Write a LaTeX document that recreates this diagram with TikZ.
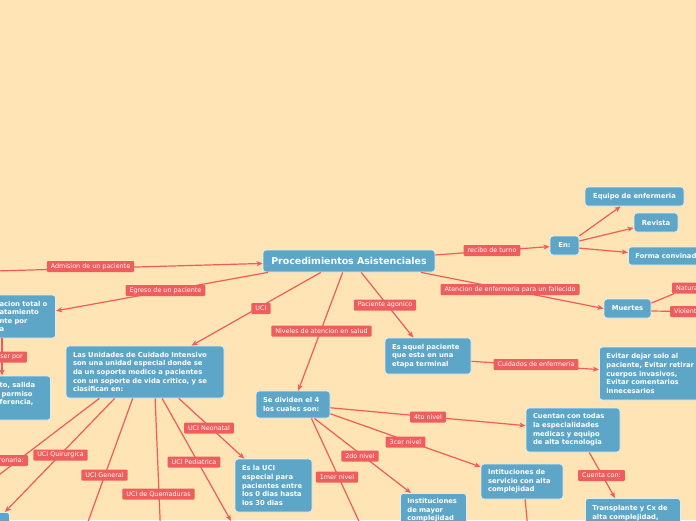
\documentclass[tikz,border=0pt]{standalone}
\usepackage{fontspec}
\setmainfont{DejaVu Sans}
\usetikzlibrary{arrows.meta,calc}
\definecolor{bgc}{HTML}{FFE4B6}
\definecolor{nodeblue}{HTML}{5EA6C8}
\definecolor{labred}{HTML}{EF5D5D}
\definecolor{edgered}{HTML}{F05C5C}
\tikzset{
 box/.style={fill=nodeblue, draw=white!80!nodeblue, line width=0.8pt, rounded corners=3pt, text=white,
   font=\fontsize{6.8}{8.6}\selectfont\bfseries, align=left, inner xsep=7pt, inner ysep=4pt},
 lbl/.style={fill=labred, text=white, font=\fontsize{6.4}{7.5}\selectfont, inner xsep=4pt, inner ysep=1.5pt,
   minimum height=11pt, rounded corners=1pt},
 conn/.style={draw=edgered, line width=1.2pt},
 arr/.style={conn, -{Stealth[length=6pt,width=5pt,inset=1.5pt]}},
}
\begin{document}
\begin{tikzpicture}[x=1pt,y=-1pt]
\clip (0,0) rectangle (696,520);
\fill[bgc] (0,0) rectangle (696,520);

% boxes
\node[box, minimum width=172pt, minimum height=22pt, inner xsep=8pt, font=\fontsize{9.4}{11}\selectfont\bfseries] (main) at (349,261) {Procedimientos Asistenciales};
\node[box, minimum width=29pt, minimum height=19pt, inner xsep=5pt] (en) at (564.5,245.5) {En:};
\node[box, minimum width=99pt, minimum height=19pt] (equipo) at (634.5,196.5) {Equipo de enfermeria};
\node[box, minimum width=44pt, minimum height=19pt] (revista) at (656,222.5) {Revista};
\node[box, minimum height=18pt, anchor=west] (forma) at (628,256) {Forma convinada};
\node[box, minimum width=47pt, minimum height=19pt] (muertes) at (627.5,308.5) {Muertes};
\node[box, text width=72pt, minimum height=36pt] (aquel) at (428,356) {Es aquel paciente\\que esta en una\\etapa terminal};
\node[box, text width=108pt, minimum height=53pt, anchor=west] (evitar) at (599,373.5) {Evitar dejar solo al\\paciente, Evitar retirar\\cuerpos invasivos,\\Evitar comentarios\\innecesarios};
\node[box, text width=80pt, minimum height=44pt] (cuentan) at (573,430) {Cuentan con todas\\la especialidades\\medicas y equipo\\de alta tecnologia};
\node[box, text width=68pt, minimum height=35pt] (intit) at (522,481.5) {Intituciones de\\servicio con alta\\complejidad};
\node[box, text width=81pt, minimum height=30pt, anchor=north west] (transpl) at (585,498) {Transplante y Cx de\\alta complejidad,};
\node[box, text width=52pt, minimum height=34pt, anchor=north west] (mayor) at (400,493) {Instituciones\\de mayor\\complejidad};
\node[box, text width=60pt, minimum height=27pt] (dividen) at (293,404.5) {Se dividen el 4\\los cuales son:};
\node[box, text width=63pt, minimum height=53pt] (neonat) at (273.5,485.5) {Es la UCI\\especial para\\pacientes entre\\los 0 dias hasta\\los 30 dias};
\node[box, text width=144pt, minimum height=52pt] (ucidef) at (145,372) {Las Unidades de Cuidado Intensivo\\son una unidad especial donde se\\da un soporte medico a pacientes\\con un soporte de vida critico, y se\\clasifican en:};
\node[box, text width=50pt, inner xsep=6pt, minimum height=43pt, anchor=east] (left1) at (56,316.5) {acion total o\\atamiento\\nte por\\a};
\node[box, text width=45pt, inner xsep=6pt, minimum height=44pt, anchor=east] (left2) at (51,398) {to, salida\\\hspace*{2pt}permiso\\ferencia,\\\mbox{}};
\node[box, minimum width=40pt, minimum height=20pt, anchor=north east] (bl) at (10,512) {};

% labels that are connector ends
\node[lbl, anchor=west] (lNat) at (672,288) {Natural};
\node[lbl, anchor=west] (lVio) at (670,311.5) {Violenta};

% free ends
\coordinate (offAdm) at (-40,272);
\coordinate (offCor) at (-30,497);
\coordinate (offGen) at (85,530);
\coordinate (offQue) at (160.5,530);
\coordinate (offPed) at (231,521);
\coordinate (off1) at (363,530);
\coordinate (offInt) at (528,530);

% connectors
\draw[arr] (offAdm) -- (main);
\draw[arr] (main.188) -- (left1);
\draw[arr] (main.202) -- (ucidef);
\draw[arr] (main.241) -- (dividen);
\draw[arr] (main.317) -- (aquel);
\draw[arr] (main.4) -- (en);
\draw[arr] (main.351) -- (muertes.west);
\draw[arr] (en.33) -- (equipo);
\draw[arr] (en.17) -- (revista);
\draw[arr] (en.350) -- (forma);
\draw[conn] (muertes.13) -- (lNat);
\draw[conn] (muertes.354) -- (lVio);
\draw[arr] (aquel.353) -- (evitar);
\draw[arr] (dividen.355) -- (cuentan);
\draw[arr] (dividen.346) -- (intit);
\draw[arr] (dividen.327) -- (mayor);
\draw[conn] (dividen.323) -- (off1);
\draw[arr] (cuentan.306) -- ($(transpl.north west)+(30,0)$);
\draw[conn] (intit.280) -- (offInt);
\draw[conn] (ucidef.210) -- (offCor);
\draw[arr] (ucidef.221) -- ($(bl.north east)+(-5,0)$);
\draw[conn] (ucidef.245) -- (offGen);
\draw[conn] (ucidef.291) -- (offQue);
\draw[arr] (ucidef.303) -- (offPed);
\draw[arr] (ucidef.322) -- (neonat);
\draw[arr] ($(left1.south east)+(-54,0)$) -- ($(left2.north east)+(-49,0)$);

% labels on connectors
\node[lbl] (lAdm) at (90.5,266.5) {Admision de un paciente};
\node[lbl] (lEgr) at (165.5,290.5) {Egreso de un paciente};
\node[lbl] (lUci) at (261,308.5) {UCI};
\node[lbl] (lNiv) at (321.5,331) {Niveles de atencion en salud};
\node[lbl] (lAgo) at (385,305) {Paciente agonico};
\node[lbl] (lRec) at (492,250.5) {recibo de turno};
\node[lbl] (lAte) at (510,289.5) {Atencion de enfermeria para un fallecido};
\node[lbl] (lCui) at (536,364.5) {Cuidados de enfermeria};
\node[lbl] (l4) at (428,417) {4to nivel};
\node[lbl] (l3) at (405.5,442) {3cer nivel};
\node[lbl] (l2) at (360,456) {2do nivel};
\node[lbl] (l1) at (337,477) {1mer nivel};
\node[lbl] (lCon) at (601.5,475.5) {Cuenta con:};
\node[lbl, anchor=east] (lSer) at (27,357) {ser por};
\node[lbl, anchor=east] (lCor) at (28,460.5) {UCI Coronaria:};
\node[lbl] (lQui) at (60.5,455) {UCI Quirurgica};
\node[lbl] (lGen) at (104.5,475) {UCI General};
\node[lbl] (lQue) at (158.5,494) {UCI de Quemaduras};
\node[lbl] (lPed) at (194,462) {UCI Pediatrica};
\node[lbl] (lNeo) at (209,428) {UCI Neonatal};
\end{tikzpicture}
\end{document}
